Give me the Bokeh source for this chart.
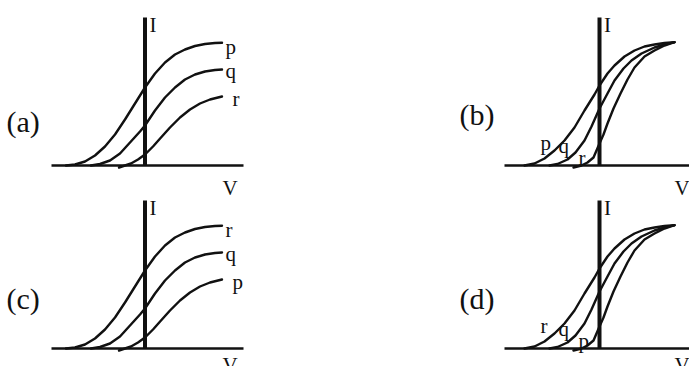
import numpy as np
from bokeh.plotting import figure
from bokeh.models import Range1d
from bokeh.embed import file_html
from bokeh.resources import INLINE
from bokeh.core.properties import value

# ---------------- data (V, I in schematic units, origin at axis crossing) -------------
# family used in panels (a) and (c): same stopping potential, different saturation
A1_V = [-79, -70, -60, -50, -40, -30, -20, -10, 0, 10, 20, 30, 40, 50, 60, 70, 77]
A1_I = [0, 1, 4, 10, 19, 31, 46, 62, 78, 92, 103, 111, 116, 119.5, 121.5, 122.5, 122.7]
A2_V = [-54, -45, -35, -25, -15, -5, 0, 10, 20, 30, 40, 50, 60, 70, 77]
A2_I = [0, 1.5, 5, 12, 23, 34, 40, 55, 68, 78, 86, 91, 94, 95.5, 96]
A3_V = [-26, -20, -14, -7, 0, 8, 16, 25, 35, 45, 55, 65, 77]
A3_I = [-2, 0, 2, 6, 11, 19, 28, 38, 48, 56, 62, 66, 69]

# family used in panels (b) and (d): same saturation, different stopping potential
B1_V = [-75, -65, -55, -45, -35, -25, -15, -5, 0, 8, 15, 25, 35, 45, 55, 65, 75]
B1_I = [0, 2, 7, 15, 25, 38, 55, 71, 80, 92, 100, 109, 115, 119, 121, 122.5, 123.3]
B2_V = [-50, -42, -32, -24, -15, -8, 0, 8, 15, 24, 32, 42, 55, 65, 75]
B2_I = [0, 1.5, 6, 13, 25, 39, 57, 72, 85, 97, 105, 112, 118, 121, 123.3]
B3_V = [-26, -18, -12, -6, 0, 4, 8, 14, 21, 28, 35, 45, 55, 65, 75]
B3_I = [-2, 0, 3, 8, 22, 31, 42, 57, 72, 86, 98, 109, 115, 120, 123.3]

panel_names = ["(a)", "(b)", "(c)", "(d)"]
panel_curve_labels = [["p", "q", "r"], ["p", "q", "r"], ["r", "q", "p"], ["r", "q", "p"]]
panel_family = ["A", "B", "A", "B"]
axis_labels = ["I", "V"]

# ---------------- layout (page-pixel coordinates) -------------
ORIGINS = [(144.5, 165), (599, 165), (144.5, 348), (599, 348)]
HAXIS = {"A": (-93.5, 98.5), "B": (-95, 90)}
VAXIS_TOP = 148
LABEL_SLOTS = {"A": [(80.5, 118.5), (80.5, 94.5), (87.5, 67)],
               "B": [(-59, 22.5), (-41, 19.5), (-21, 8)]}
I_POS = (4.5, 141)
V_POS = [(77.5, -22), (75, -22), (77.5, -16), (75, -16)]
NAME_POS = [(6, 121), (459, 114), (6, 298), (459, 298)]

FONT = value("Liberation Serif")
INK = "#111111"

families = {"A": [(A1_V, A1_I), (A2_V, A2_I), (A3_V, A3_I)],
            "B": [(B1_V, B1_I), (B2_V, B2_I), (B3_V, B3_I)]}

p = figure(width=689, height=366, x_range=Range1d(0, 689), y_range=Range1d(366, 0),
           output_backend="svg", toolbar_location=None, min_border=0,
           x_axis_location=None, y_axis_location=None)
p.grid.visible = False
p.outline_line_color = None
p.background_fill_color = "white"
p.border_fill_color = "white"

for k in range(4):
    ox, oy = ORIGINS[k]
    fam = panel_family[k]
    # axes
    h0, h1 = HAXIS[fam]
    p.line([ox + h0, ox + h1], [oy, oy], line_color=INK, line_width=2.7)
    p.line([ox, ox], [oy, oy - VAXIS_TOP], line_color=INK, line_width=4)
    # curves
    for (V, I) in families[fam]:
        xs = ox + np.array(V, dtype=float)
        ys = oy - np.array(I, dtype=float)
        p.line(xs, ys, line_color=INK, line_width=2.4, line_join="round", line_cap="round")
    # curve labels
    lx = [ox + s[0] for s in LABEL_SLOTS[fam]]
    ly = [oy - s[1] for s in LABEL_SLOTS[fam]]
    p.text(x=lx, y=ly, text=panel_curve_labels[k], text_font=FONT, text_font_size="21px",
           text_color=INK, text_align="left", text_baseline="alphabetic")
    # axis letters
    p.text(x=[ox + I_POS[0], ox + V_POS[k][0]], y=[oy - I_POS[1], oy - V_POS[k][1]],
           text=axis_labels, text_font=FONT, text_font_size="21px",
           text_color=INK, text_align="left", text_baseline="alphabetic")
    # panel name
    p.text(x=[NAME_POS[k][0]], y=[NAME_POS[k][1]], text=[panel_names[k]], text_font=FONT,
           text_font_size="30px", text_color=INK, text_align="left", text_baseline="alphabetic")

open("out.html", "w").write(file_html(p, INLINE))
